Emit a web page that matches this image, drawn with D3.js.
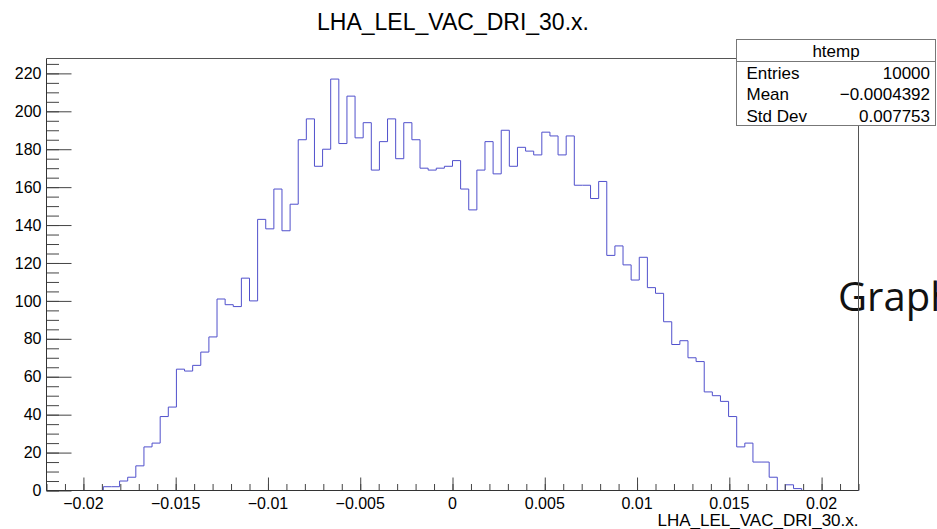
<!DOCTYPE html>
<html>
<head>
<meta charset="utf-8">
<script src="https://cdn.jsdelivr.net/npm/d3@7"></script>
<style>
  html, body { margin: 0; padding: 0; background: #fff; }
  svg { display: block; }
</style>
</head>
<body>
<svg id="c" width="937" height="529"></svg>
<script>
// Histogram of LHA_LEL_VAC_DRI_30.x : 100 bins over [-0.022, 0.022]
const xMin = -0.022;
const xMax = 0.022;
const binCounts = [
  0, 0, 0, 0, 0, 0, 0, 2, 2, 5,
  7, 13, 23, 25, 39, 44, 64, 63, 66, 73,
  81, 101, 98, 97, 112, 100, 143, 138, 159, 137,
  151, 185, 196, 171, 180, 217, 183, 208, 186, 194,
  169, 184, 196, 175, 194, 185, 170, 169, 170, 171,
  174, 159, 148, 169, 184, 167, 190, 171, 181, 179,
  177, 189, 187, 177, 187, 161, 161, 154, 163, 124,
  129, 119, 111, 123, 107, 104, 89, 77, 79, 70,
  68, 52, 50, 47, 39, 23, 25, 15, 15, 7,
  0, 3, 1, 0, 0, 0, 0, 0, 0, 0
];

const xTickValues = [-0.02, -0.015, -0.01, -0.005, 0, 0.005, 0.01, 0.015, 0.02];
const xTickLabels = ["\u22120.02", "\u22120.015", "\u22120.01", "\u22120.005", "0", "0.005", "0.01", "0.015", "0.02"];
const yTickValues = [0, 20, 40, 60, 80, 100, 120, 140, 160, 180, 200, 220];
const yTickLabels = ["0", "20", "40", "60", "80", "100", "120", "140", "160", "180", "200", "220"];

const titleText = "LHA_LEL_VAC_DRI_30.x.";
const axisTitleText = "LHA_LEL_VAC_DRI_30.x.";
const statsName = "htemp";
const statsRows = [["Entries", "10000"], ["Mean", "\u22120.0004392"], ["Std Dev", "0.007753"]];
const sideText = "Graph";

const svg = d3.select("#c");
const frame = { left: 46.5, right: 858.5, top: 58.5, bottom: 490.5 };
const font = "'Liberation Sans', Arial, Helvetica, sans-serif";

const nBins = binCounts.length;
const binWidth = (xMax - xMin) / nBins;
const yMax = d3.max(binCounts) * 1.05;

const x = d3.scaleLinear().domain([xMin, xMax]).range([frame.left, frame.right]);
const y = d3.scaleLinear().domain([0, yMax]).range([frame.bottom, frame.top]);

// "Graph" label partly behind the frame, running off the right edge
svg.append("text")
  .attr("x", 838).attr("y", 311)
  .attr("font-family", "'Open Sans', 'Noto Sans', sans-serif")
  .attr("font-size", 40)
  .attr("fill", "#111")
  .text(sideText);

// frame
const frameColor = "#555";
svg.append("line").attr("x1", frame.left).attr("x2", 736).attr("y1", frame.top).attr("y2", frame.top)
  .attr("stroke", frameColor).attr("stroke-width", 1);
svg.append("line").attr("x1", frame.right).attr("x2", frame.right).attr("y1", frame.top).attr("y2", frame.bottom)
  .attr("stroke", frameColor).attr("stroke-width", 1);

// histogram outline
const pts = binCounts.map((c, i) => [xMin + i * binWidth, c]);
pts.push([xMax, binCounts[nBins - 1]]);
const step = d3.line().x(d => x(d[0])).y(d => y(d[1])).curve(d3.curveStepAfter);
svg.append("path")
  .attr("d", step(pts))
  .attr("fill", "none")
  .attr("stroke", "#5050cc")
  .attr("stroke-width", 1);

// y axis (ticks drawn inside the frame)
const yMinor = d3.range(0, yMax, 5);
const yAxisMinor = d3.axisRight(y).tickValues(yMinor).tickSize(12.5).tickFormat("");
const yAxisMajor = d3.axisRight(y).tickValues(yTickValues).tickSize(25).tickFormat("");
[yAxisMinor, yAxisMajor].forEach(ax => {
  const g = svg.append("g").attr("transform", `translate(${frame.left},0)`).call(ax);
  g.select(".domain").remove();
  g.selectAll("line").attr("stroke", "#444");
});
svg.append("g").selectAll("text").data(yTickValues).join("text")
  .attr("x", 41.5).attr("y", d => y(d) + 5.6)
  .attr("text-anchor", "end")
  .attr("font-family", font).attr("font-size", 16).attr("fill", "#000")
  .text((d, i) => yTickLabels[i]);

// x axis (ticks drawn upward)
const xMinor = d3.range(-22, 23, 1).map(v => v / 1000);
const xAxisMinor = d3.axisTop(x).tickValues(xMinor).tickSize(6.5).tickFormat("");
const xAxisMajor = d3.axisTop(x).tickValues(xTickValues).tickSize(13).tickFormat("");
[xAxisMinor, xAxisMajor].forEach(ax => {
  const g = svg.append("g").attr("transform", `translate(0,${frame.bottom})`).call(ax);
  g.select(".domain").remove();
  g.selectAll("line").attr("stroke", "#444");
});
svg.append("g").selectAll("text").data(xTickValues).join("text")
  .attr("x", d => x(d)).attr("y", 508.5)
  .attr("text-anchor", "middle")
  .attr("font-family", font).attr("font-size", 16).attr("fill", "#000")
  .text((d, i) => xTickLabels[i]);

// axis lines
svg.append("line").attr("x1", frame.left).attr("x2", frame.left).attr("y1", frame.top).attr("y2", frame.bottom)
  .attr("stroke", "#333").attr("stroke-width", 1);
svg.append("line").attr("x1", frame.left).attr("x2", frame.right).attr("y1", frame.bottom).attr("y2", frame.bottom)
  .attr("stroke", "#333").attr("stroke-width", 1);

// axis title
svg.append("text")
  .attr("x", frame.right).attr("y", 526)
  .attr("text-anchor", "end")
  .attr("font-family", font).attr("font-size", 17).attr("fill", "#000")
  .text(axisTitleText);

// main title
svg.append("text")
  .attr("x", 453).attr("y", 30)
  .attr("text-anchor", "middle")
  .attr("font-family", font).attr("font-size", 23).attr("fill", "#000")
  .text(titleText);

// statistics box
const box = { x0: 736.5, x1: 935.5, y0: 39.5, y1: 125.5, sep: 61.5 };
const sb = svg.append("g");
sb.append("rect")
  .attr("x", box.x0).attr("y", box.y0)
  .attr("width", box.x1 - box.x0).attr("height", box.y1 - box.y0)
  .attr("fill", "#fff").attr("stroke", "#777").attr("stroke-width", 1);
sb.append("line").attr("x1", box.x0).attr("x2", box.x1).attr("y1", box.sep).attr("y2", box.sep)
  .attr("stroke", "#777").attr("stroke-width", 1);
sb.append("text")
  .attr("x", (box.x0 + box.x1) / 2).attr("y", 57)
  .attr("text-anchor", "middle")
  .attr("font-family", font).attr("font-size", 17).attr("fill", "#000")
  .text(statsName);
statsRows.forEach((r, i) => {
  const by = 79 + i * 21.3;
  sb.append("text").attr("x", 746.5).attr("y", by)
    .attr("font-family", font).attr("font-size", 17).attr("fill", "#000").text(r[0]);
  sb.append("text").attr("x", 930).attr("y", by).attr("text-anchor", "end")
    .attr("font-family", font).attr("font-size", 17).attr("fill", "#000").text(r[1]);
});
</script>
</body>
</html>
